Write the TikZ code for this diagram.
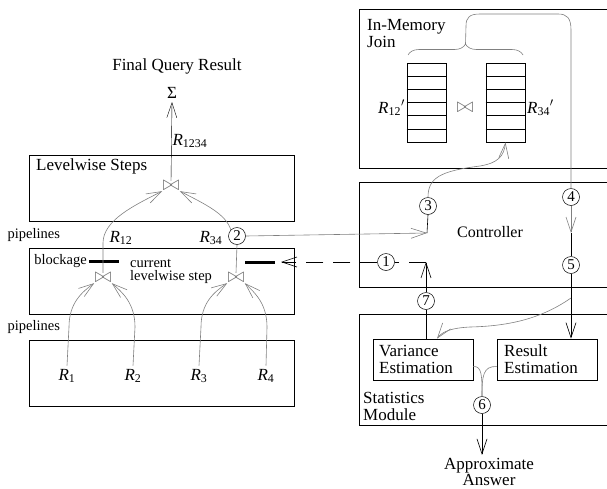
\documentclass[tikz,border=0pt]{standalone}
\usepackage{fontspec}
\setmainfont{Liberation Serif}
\usepackage{tikz}
\usetikzlibrary{arrows.meta,calc,decorations.pathreplacing,positioning}

\newcommand{\relname}[1]{\textit{R}\textsubscript{#1}}

\tikzset{
  box/.style={draw, line width=0.9pt, inner sep=0pt},
  stack/.style={draw, line width=0.8pt, minimum width=39pt, minimum height=79pt, inner sep=0pt},
  num/.style={draw, circle, line width=0.5pt, minimum size=17pt, inner sep=0pt, font=\fontsize{15}{15}\selectfont},
  joinop/.style={text=black!55, inner sep=0pt, scale=1.45, font=\fontsize{15}{15}\selectfont},
  flow/.style={draw=black!50, line width=0.6pt},
  arr/.style={-{Straight Barb[length=15pt,width=10pt]}},
  dashline/.style={line width=0.6pt, dash pattern=on 17pt off 10pt},
  bigtxt/.style={font=\fontsize{17}{17}\selectfont},
  midtxt/.style={font=\fontsize{17}{17}\selectfont},
  smalltxt/.style={font=\fontsize{14.5}{13}\selectfont}
}

\begin{document}
\begin{tikzpicture}[x=1pt,y=-1pt]
  \useasboundingbox (0,0) rectangle (607,488);
  \clip (0,0) rectangle (607,488);

  % levelwise steps
  \node[bigtxt] (final) at (177,66) {Final Query Result};
  \node[bigtxt] (sigma) at (172,93) {Σ};
  \node[box, minimum width=265pt, minimum height=66pt] (steps) at (161.5,188) {};
  \node[bigtxt, anchor=west, inner sep=0pt] (stepsname) at (36,166) {Levelwise Steps};
  \node[joinop] (jtop) at (171,186) {$\bowtie$};
  \draw[arr] (jtop.north) -- (sigma.south);
  \node[midtxt, anchor=west] (r1234) at (169,141) {\relname{1234}};

  % current levelwise step
  \node[smalltxt, anchor=west] (pipe1) at (4,235) {pipelines};
  \node[box, minimum width=265pt, minimum height=66pt] (curr) at (161.5,281) {};
  \node[smalltxt, anchor=east, inner sep=1pt] (block) at (88,261) {blockage};
  \node[smalltxt, anchor=west, align=left, inner sep=0pt] (currname) at (130,271) {current\\levelwise step};
  \draw[line width=3pt] (89,261) -- (119,261);
  \draw[line width=3pt] (245,262) -- (275,262);
  \coordinate (bar) at (281,262);
  \node[joinop] (j12) at (103,278) {$\bowtie$};
  \node[joinop] (j34) at (236,278) {$\bowtie$};
  \node[midtxt] (r12) at (121,238) {\relname{12}};
  \node[midtxt] (r34) at (211,238) {\relname{34}};
  \node[num] (two) at (237,236) {2};
  \draw[flow, arr] (j12.north) -- (103,243) .. controls (103,220) and (135,205) .. (jtop.south west);
  \draw[flow] (j34.north) -- (two.south);
  \draw[flow, arr] (two.north west) .. controls (226,214) and (205,204) .. (jtop.south east);

  % base relations
  \node[smalltxt, anchor=west] (pipe2) at (4,327) {pipelines};
  \node[box, minimum width=265pt, minimum height=66pt] (base) at (161.5,373) {};
  \foreach \x [count=\i] in {67,133,199,266}{
    \node[midtxt] (r\i) at (\x,376) {\relname{\i}};
  }
  \draw[flow, arr] (r1.north) -- (69,327) .. controls (69,303) and (82,292) .. (j12.south west);
  \draw[flow, arr] (r2.north) -- (135,327) .. controls (135,303) and (122,292) .. (j12.south east);
  \draw[flow, arr] (r3.north) -- (201,327) .. controls (201,303) and (214,292) .. (j34.south west);
  \draw[flow, arr] (r4.north) -- (267,327) .. controls (267,303) and (254,292) .. (j34.south east);

  % in-memory join
  \node[box, minimum width=266pt, minimum height=159pt] (mem) at (492,88.5) {};
  \node[bigtxt, anchor=north west, align=left, inner sep=0pt] (memname) at (367,19) {In-Memory\\Join};
  \node[stack] (lstack) at (426.5,102.5) {};
  \node[stack] (rstack) at (505.5,102.5) {};
  \foreach \s in {lstack,rstack}{
    \foreach \k in {1,...,5}{
      \draw[line width=0.8pt] ($(\s.north west)!\k/6!(\s.south west)$) -- ($(\s.north east)!\k/6!(\s.south east)$);
    }
  }
  \node[joinop] (jmem) at (465,108) {$\bowtie$};
  \node[midtxt, anchor=east, inner sep=1pt] (r12p) at (406,108) {\relname{12}$'$};
  \node[midtxt, anchor=west, inner sep=1pt] (r34p) at (526,108) {\relname{34}$'$};
  \draw[flow, decorate, decoration={brace, amplitude=11pt}] (408,55) -- (523,55);
  \coordinate (tip) at (465.5,44);

  % controller
  \node[box, minimum width=266pt, minimum height=105pt] (ctrl) at (492,234.5) {};
  \node[midtxt, font=\fontsize{16}{16}\selectfont] (ctrlname) at (490,232) {Controller};
  \node[num] (one) at (386,262) {1};
  \node[num] (three) at (428,206) {3};
  \node[num] (four) at (571,197) {4};
  \node[num] (five) at (571,265) {5};
  \coordinate (in3) at (427,233);
  \coordinate (in5) at (571,233);
  \coordinate (corner) at (426,262);
  \coordinate (fork) at (571,298);
  \draw[flow, arr] (two.east) -- (in3);
  \draw[line width=0.6pt] (in3) -- (three.south);
  \draw[flow, arr] (three.north) .. controls (428,178) and (440,171) .. (480,166) .. controls (498,163) and (504,156) .. (rstack.south);
  \draw[flow] (tip) -- (466,26) .. controls (466,17) and (470,14) .. (480,14) -- (558,14) .. controls (567,14) and (571,18) .. (571,30) -- (four.north);
  \draw[flow, arr] (four.south) -- (in5);
  \draw[line width=0.6pt] (in5) -- (five.north);
  \draw[dashline] (corner) -- (one.east);
  \draw[dashline, arr] (one.west) -- (bar);

  % statistics module
  \node[box, minimum width=266pt, minimum height=111pt] (stats) at (492,369.5) {};
  \node[bigtxt, anchor=north west, align=left, inner sep=0pt] (statsname) at (363,392) {Statistics\\Module};
  \node[box, line width=0.8pt, minimum width=100pt, minimum height=41pt] (var) at (423,359.5) {};
  \node[bigtxt, anchor=west, align=left, inner sep=0pt] (vartext) at (379,359) {Variance\\Estimation};
  \node[box, line width=0.8pt, minimum width=100pt, minimum height=41pt] (res) at (547,359.5) {};
  \node[bigtxt, anchor=west, align=left, inner sep=0pt] (restext) at (504,359) {Result\\Estimation};
  \node[num] (seven) at (426,301) {7};
  \node[num] (six) at (482,405) {6};
  \node[bigtxt, align=center, font=\fontsize{17}{13}\selectfont] (ans) at (489,472) {Approximate\\Answer};
  \draw[line width=0.6pt] (seven |- var.north) -- (seven.south);
  \draw[line width=0.6pt, arr] (seven.north) -- (corner);
  \draw[line width=0.6pt, arr] (five.south) -- (five |- res.north);
  \draw[flow, arr] (fork) .. controls (545,316) and (515,326) .. (470,327) .. controls (450,328) and (442,332) .. ($(var.north)+(14,0)$);
  \draw[flow] ($(var.east)+(0,7)$) .. controls (482,366) and (482,376) .. (six.north);
  \draw[flow] ($(res.west)+(0,7)$) .. controls (483,366) and (482,376) .. (six.north);
  \draw[line width=0.6pt, arr] (six.south) -- (six |- ans.north);
\end{tikzpicture}
\end{document}
